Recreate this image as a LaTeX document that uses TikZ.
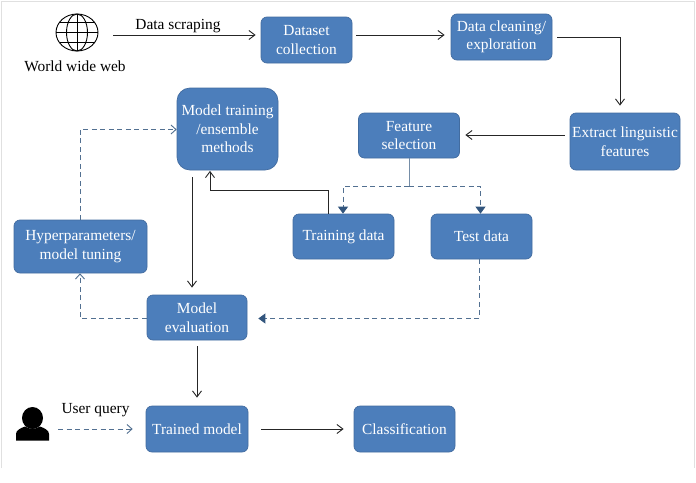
\documentclass[tikz,border=0pt]{standalone}
\usepackage{fontspec}
\setmainfont{Liberation Serif}
\usetikzlibrary{arrows.meta}
\definecolor{boxfill}{RGB}{76,126,187}
\definecolor{boxline}{RGB}{66,108,160}
\definecolor{dashc}{RGB}{82,112,145}
\definecolor{darkarrow}{RGB}{50,85,125}
\tikzset{
  x=1pt,y=-1pt,
  proc/.style={draw=boxline,line width=0.7pt,fill=boxfill,text=white,rounded corners=6pt,align=center,font=\fontsize{15.4}{18.5}\selectfont,inner sep=0pt},
  lab/.style={text=black,font=\fontsize{15.4}{18}\selectfont,inner sep=0pt},
  solidarrow/.style={draw=black!85,line width=0.9pt,-{Straight Barb[length=6pt,width=9pt]}},
  dasharrow/.style={draw=dashc,line width=0.9pt,dash pattern=on 5pt off 3.5pt,-{Straight Barb[length=5pt,width=9pt]}},
  dashfill/.style={draw=dashc,line width=0.9pt,dash pattern=on 5pt off 3.5pt,-{Triangle[length=7pt,width=10pt,color=darkarrow]}},
}
\begin{document}
\begin{tikzpicture}
\useasboundingbox (0,0) rectangle (696,482);
\fill[white] (0,0) rectangle (696,482);
\draw[black!12,line width=1pt] (1,468) -- (1,1) -- (694.5,1) -- (694.5,468);
\def\boxat#1#2#3#4#5#6{\node[proc,minimum width=#4pt-#2pt,minimum height=#5pt-#3pt] (#1) at ({(#2+#4)/2},{(#3+#5)/2}) {#6};}
\boxat{dataset}{261}{17}{352}{63}{Dataset\\collection}
\boxat{clean}{451}{14}{552}{60}{Data cleaning/\\exploration}
\boxat{extract}{570}{113}{680}{170}{Extract linguistic\\features}
\boxat{feature}{358.5}{113}{459.5}{158}{Feature\\selection}
\boxat{training}{293}{214}{394}{259}{Training data}
\boxat{test}{431}{214}{532}{259}{Test data}
\node[proc,rounded corners=13pt,minimum width=101pt,minimum height=82pt] (mt) at (227.5,129) {Model training\\/ensemble\\methods};
\boxat{hyper}{14}{220}{147}{273}{Hyperparameters/\\model tuning}
\boxat{eval}{147}{295}{247}{340}{Model\\evaluation}
\boxat{trained}{146}{406}{248}{452}{Trained model}
\boxat{classif}{354}{406}{455}{452}{Classification}
% globe
\begin{scope}[shift={(77,32.5)},draw=black,line width=0.9pt]
\draw (0,0) ellipse [x radius=21pt,y radius=18.5pt];
\draw (0,0) ellipse [x radius=10.5pt,y radius=18.5pt];
\draw (0,-18.5) -- (0,18.5);
\draw (-21,0) -- (21,0);
\draw (-17.5,-10) -- (17.5,-10);
\draw (-17.5,10) -- (17.5,10);
\end{scope}
\coordinate (globe) at (77,35);
\node[lab] (www) at (75,66.5) {World wide web};
\node[lab] (scrape) at (178,26) {Data scraping};
\node[lab] (uq) at (95.5,410.5) {User query};
% user icon
\fill[black] (32.5,418) ellipse [x radius=10.5pt,y radius=11pt];
\fill[black] (16,440.5) -- (16,434) .. controls (16,430) and (21,428) .. (25,426.5) .. controls (29,429.5) and (36,429.5) .. (40,426.5) .. controls (44,428) and (49,430) .. (49,434) -- (49,440.5) -- cycle;
\coordinate (user) at (32.5,429);
% connectors
\draw[solidarrow,shorten <=36pt,shorten >=5pt] (globe) -- (dataset.west |- globe);
\draw[solidarrow,shorten <=4pt,shorten >=6pt] (dataset.east |- globe) -- (clean.west |- globe);
\coordinate (b2) at (620,37);
\draw[solidarrow,shorten <=5pt,shorten >=7pt] (clean.east |- b2) -- (b2) -- (b2 |- extract.north);
\coordinate (c) at (0,135);
\draw[solidarrow,shorten <=5pt,shorten >=5.5pt] (extract.west |- c) -- (feature.east |- c);
\coordinate (split) at (409,186);
\draw[draw=dashc!80,line width=0.9pt] (feature.south) -- (split);
\coordinate (t1) at (343,186);
\coordinate (t2) at (480.5,186);
\draw[dashfill] (split) -- (t1) -- (t1 |- training.north);
\draw[dashfill] (split) -- (t2) -- (t2 |- test.north);
\coordinate (u1) at (328,190);
\coordinate (u2) at (210,190);
\draw[solidarrow,shorten >=0.5pt] (u1 |- training.north) -- (u1) -- (u2) -- (u2 |- mt.south);
\coordinate (v) at (192,0);
\draw[solidarrow,shorten <=7pt,shorten >=7pt] (v |- mt.south) -- (v |- eval.north);
\coordinate (w1) at (479.5,318.5);
\draw[dashfill,shorten >=11pt] (w1 |- test.south) -- (w1) -- (eval.east |- w1);
\coordinate (h1) at (80,318.5);
\draw[dasharrow] (eval.west |- h1) -- (h1) -- (h1 |- hyper.south);
\coordinate (h2) at (80,129.5);
\draw[dasharrow] (h2 |- hyper.north) -- (h2) -- (mt.west |- h2);
\coordinate (x) at (197,0);
\draw[solidarrow,shorten <=6pt,shorten >=8pt] (x |- eval.south) -- (x |- trained.north);
\draw[solidarrow,shorten <=13pt,shorten >=10pt] (trained.east) -- (classif.west);
\draw[dasharrow,shorten <=25.5pt,shorten >=13pt] (user) -- (trained.west);
\end{tikzpicture}
\end{document}
